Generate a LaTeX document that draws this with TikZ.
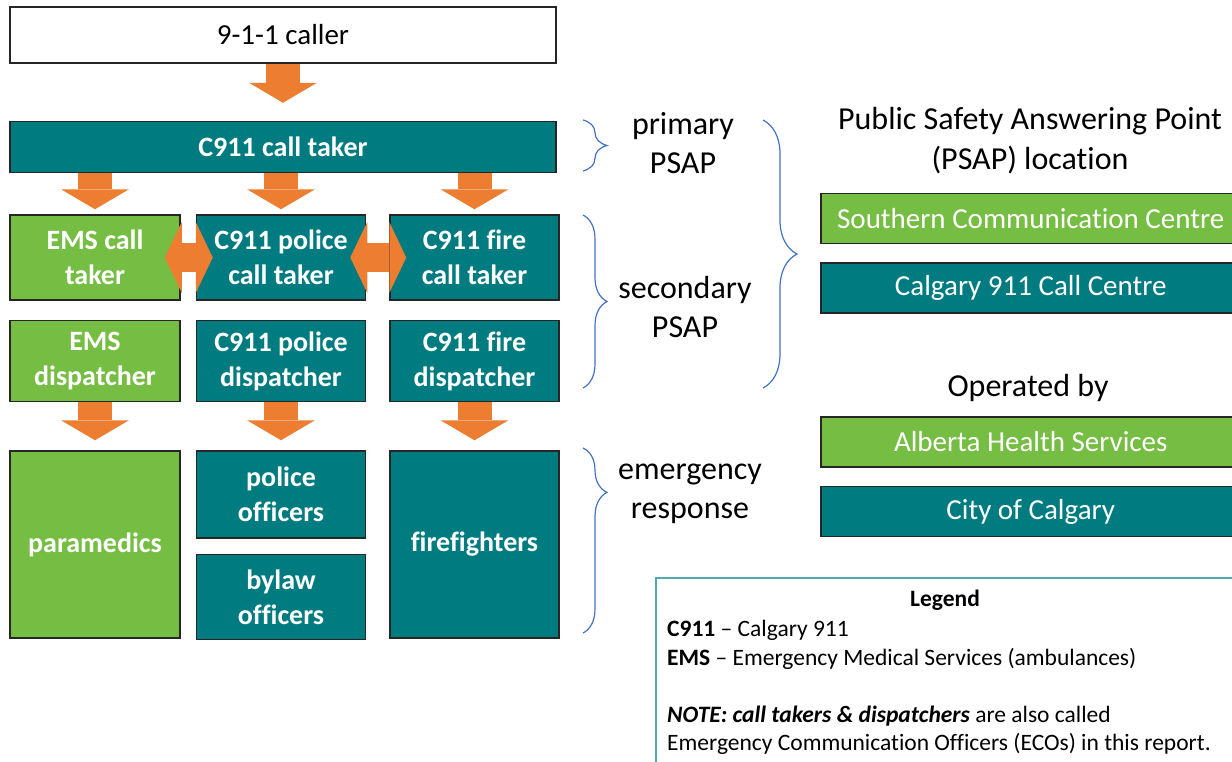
\documentclass[tikz,border=0pt]{standalone}
\usepackage{fontspec}
\setmainfont{Carlito}[Ligatures={TeX,NoCommon}, Contextuals=NoAlternate]
\usetikzlibrary{arrows.meta,positioning,decorations.pathreplacing}

\definecolor{calteal}{HTML}{007C80}
\definecolor{ahsgreen}{HTML}{76BE43}
\definecolor{boxline}{HTML}{262626}
\definecolor{arroworange}{HTML}{ED7D31}
\definecolor{braceblue}{HTML}{4472C4}
\definecolor{legendline}{HTML}{4FA8AC}

\begin{document}
\begin{tikzpicture}[x=1pt, y=-1pt,
  unitbox/.style={draw=boxline, line width=1.5pt, align=center, inner sep=2pt,
                  font=\fontsize{28}{35}\selectfont\bfseries, text=white},
  tealbox/.style={unitbox, fill=calteal, minimum width=169pt},
  greenbox/.style={unitbox, fill=ahsgreen, minimum width=170pt},
  sitebox/.style={unitbox, font=\fontsize{29}{35}\selectfont, minimum width=420pt,
                  minimum height=50pt, anchor=west},
  sidetext/.style={align=center, font=\fontsize{32}{39}\selectfont},
  fatarrow/.style={arroworange, line width=34pt, shorten >=10pt,
                   -{Triangle[length=20pt, width=68pt, line width=0pt]}},
  swaparrow/.style={arroworange, line width=29pt, shorten <=-16pt, shorten >=-17pt,
                    {Triangle[length=17pt, width=71pt, line width=0pt]}-{Triangle[length=17pt, width=71pt, line width=0pt]}},
  bracket/.style={braceblue, line width=1.2pt, decorate}
]
\useasboundingbox (0,0) rectangle (1232,761);
\clip (0,0) rectangle (1232,761);

% call flow
\node[unitbox, fill=white, text=black, font=\fontsize{29}{35}\selectfont,
      minimum width=546pt, minimum height=56pt] (caller) at (283,35) {9-1-1 caller};
\node[tealbox, minimum width=546pt, minimum height=51pt, below=57pt of caller] (taker) {C911 call taker};

\node[greenbox, minimum height=85pt] (emsct) at (95,257.5) {EMS call\\taker};
\node[tealbox, minimum height=85pt, right=15pt of emsct] (polct) {C911 police\\call taker};
\node[tealbox, minimum height=85pt, right=23pt of polct] (firect) {C911 fire\\call taker};

\node[greenbox, minimum height=81pt, below=19pt of emsct] (emsdp) {EMS\\dispatcher};
\node[tealbox, minimum height=81pt, below=19pt of polct] (poldp) {C911 police\\dispatcher};
\node[tealbox, minimum height=81pt, below=19pt of firect] (firedp) {C911 fire\\dispatcher};

\node[greenbox, minimum height=187pt, below=48pt of emsdp] (para) {paramedics};
\node[tealbox, minimum height=87pt, below=48pt of poldp] (polof) {police\\officers};
\node[tealbox, minimum height=85pt, below=15pt of polof] (bylaw) {bylaw\\officers};
\node[tealbox, minimum height=187pt, below=48pt of firedp] (firefit) {firefighters};

\draw[fatarrow, shorten >=18pt] (caller) -- (taker);
\draw[fatarrow, shorten >=5pt] (taker.south -| emsct) -- (emsct);
\draw[fatarrow, shorten >=5pt] (taker.south -| polct) -- (polct);
\draw[fatarrow, shorten >=5pt] (taker.south -| firect) -- (firect);
\draw[swaparrow] (emsct) -- (polct);
\draw[swaparrow] (polct) -- (firect);
\draw[fatarrow] (emsdp) -- (para);
\draw[fatarrow] (poldp) -- (polof);
\draw[fatarrow] (firedp) -- (firefit);

% PSAP levels
\node[sidetext] (primary) at (683,143) {primary\\PSAP};
\node[sidetext] (secondary) at (685,307) {secondary\\PSAP};
\node[sidetext] (response) at (690,494) {emergency\\response};
\draw[bracket, decoration={brace, amplitude=24pt}] (583,120) -- (583,171);
\draw[bracket, decoration={brace, amplitude=24pt}] (583,215) -- (583,388);
\draw[bracket, decoration={brace, amplitude=24pt, aspect=0.24}] (583,448) -- (583,633);
\draw[bracket, decoration={brace, amplitude=34pt}] (763,120) -- (763,388);

% locations and operators
\node[sidetext, font=\fontsize{32}{40}\selectfont] (location) at (1030,141) {Public Safety Answering Point\\(PSAP) location};
\node[sitebox, fill=ahsgreen] (southern) at (820,218.5) {Southern Communication Centre};
\node[sitebox, fill=calteal, below=18pt of southern] (calgary) {Calgary 911 Call Centre};
\node[sidetext] (operated) at (1028,388) {Operated by};
\node[sitebox, fill=ahsgreen] (ahs) at (820,442) {Alberta Health Services};
\node[sitebox, fill=calteal, below=18pt of ahs] (city) {City of Calgary};

% legend
\node[draw=legendline, line width=1.5pt, anchor=north west, minimum width=650pt,
      minimum height=250pt] (legend) at (655,577) {};
\node[font=\fontsize{23.5}{28.5}\selectfont\bfseries] (legendtitle) at (945,600) {Legend};
\node[font=\fontsize{23.5}{28.5}\selectfont, align=left, anchor=north west, inner sep=0pt]
  (legendtext) at (667,620) {\textbf{C911} – Calgary 911\\
  \textbf{EMS} – Emergency Medical Services (ambulances)\\[28.5pt]
  \textbf{\textit{NOTE: call takers \& dispatchers}} are also called\\
  Emergency Communication Officers (ECOs) in this report.};
\end{tikzpicture}
\end{document}
